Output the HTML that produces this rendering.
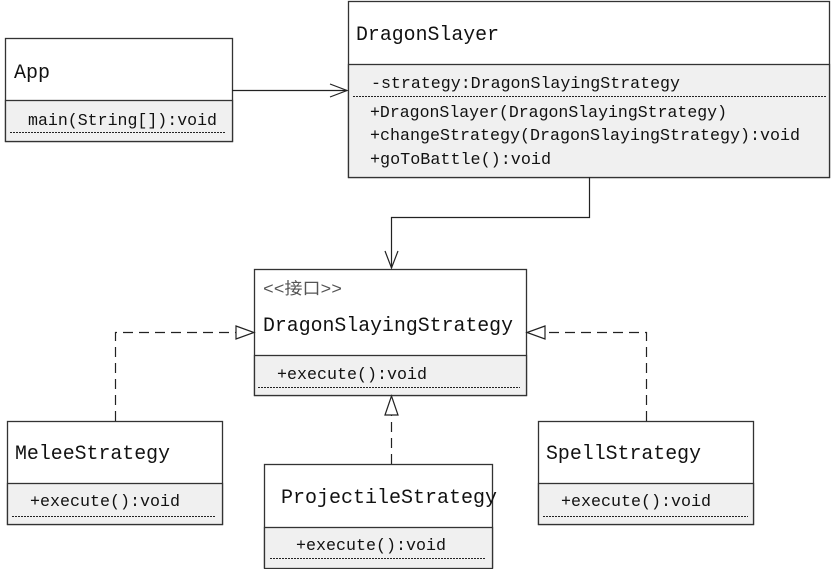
<!DOCTYPE html>
<html><head><meta charset="utf-8"><style>html,body{margin:0;padding:0;background:#fff}svg{display:block}</style></head>
<body>
<svg width="831" height="569" xmlns="http://www.w3.org/2000/svg" font-family="'Liberation Mono','Noto Sans CJK SC',monospace" fill="#111">
<g stroke="#333" stroke-width="1.3">
<!-- App -->
<rect x="5.5" y="38.5" width="227" height="103" fill="#fff"/>
<rect x="5.5" y="100.5" width="227" height="41" fill="#f0f0f0"/>
<!-- DragonSlayer -->
<rect x="348.5" y="1.5" width="481" height="176" fill="#fff"/>
<rect x="348.5" y="64.5" width="481" height="113" fill="#f0f0f0"/>
<!-- Interface -->
<rect x="254.5" y="269.5" width="272" height="126" fill="#fff"/>
<rect x="254.5" y="355.5" width="272" height="40" fill="#f0f0f0"/>
<!-- Melee -->
<rect x="7.5" y="421.5" width="215" height="103" fill="#fff"/>
<rect x="7.5" y="483.5" width="215" height="41" fill="#f0f0f0"/>
<!-- Projectile -->
<rect x="264.5" y="464.5" width="228" height="103" fill="#fff"/>
<rect x="264.5" y="527.5" width="228" height="41" fill="#f0f0f0"/>
<!-- Spell -->
<rect x="538.5" y="421.5" width="215" height="103" fill="#fff"/>
<rect x="538.5" y="483.5" width="215" height="41" fill="#f0f0f0"/>
</g>
<g stroke="#222" stroke-width="1" stroke-dasharray="2,1">
<line x1="10" y1="132.5" x2="226" y2="132.5"/>
<line x1="353" y1="96.5" x2="826" y2="96.5"/>
<line x1="258" y1="387.5" x2="520" y2="387.5"/>
<line x1="12" y1="516.5" x2="216" y2="516.5"/>
<line x1="270" y1="558.5" x2="486" y2="558.5"/>
<line x1="543" y1="516.5" x2="748" y2="516.5"/>
</g>
<!-- connectors -->
<g fill="none" stroke="#222" stroke-width="1.2">
<line x1="232" y1="90.5" x2="347" y2="90.5"/>
<polyline points="330,84 347,90.5 330,97"/>
<polyline points="589.5,177 589.5,217.5 391.5,217.5 391.5,268"/>
<polyline points="385,251 391.5,268 398,251"/>
<g stroke-dasharray="10,6">
<polyline points="115.5,421 115.5,332.5 236,332.5"/>
<polyline points="646.5,421 646.5,332.5 545,332.5"/>
<line x1="391.5" y1="464" x2="391.5" y2="415"/>
</g>
<polygon points="236,326 254,332.5 236,339" fill="#fff"/>
<polygon points="545,326 527,332.5 545,339" fill="#fff"/>
<polygon points="385,415 391.5,396 398,415" fill="#fff"/>
</g>
<!-- text -->
<g font-size="20">
<text x="14" y="78" textLength="36" lengthAdjust="spacingAndGlyphs">App</text>
<text x="356" y="40" textLength="143" lengthAdjust="spacingAndGlyphs">DragonSlayer</text>
<text x="263" y="331" textLength="250" lengthAdjust="spacingAndGlyphs">DragonSlayingStrategy</text>
<text x="15" y="459" textLength="155" lengthAdjust="spacingAndGlyphs">MeleeStrategy</text>
<text x="281" y="503" textLength="216" lengthAdjust="spacingAndGlyphs">ProjectileStrategy</text>
<text x="546" y="459" textLength="155" lengthAdjust="spacingAndGlyphs">SpellStrategy</text>
</g>
<g font-size="16.5">
<text x="28" y="125" textLength="189" lengthAdjust="spacingAndGlyphs">main(String[]):void</text>
<text x="371" y="88" textLength="309" lengthAdjust="spacingAndGlyphs">-strategy:DragonSlayingStrategy</text>
<text x="370" y="117" textLength="357" lengthAdjust="spacingAndGlyphs">+DragonSlayer(DragonSlayingStrategy)</text>
<text x="370" y="140" textLength="430" lengthAdjust="spacingAndGlyphs">+changeStrategy(DragonSlayingStrategy):void</text>
<text x="370" y="164" textLength="181" lengthAdjust="spacingAndGlyphs">+goToBattle():void</text>
<text x="263" y="294" fill="#555" textLength="79" lengthAdjust="spacingAndGlyphs">&lt;&lt;接口&gt;&gt;</text>
<text x="277" y="379" textLength="150" lengthAdjust="spacingAndGlyphs">+execute():void</text>
<text x="30" y="506" textLength="150" lengthAdjust="spacingAndGlyphs">+execute():void</text>
<text x="296" y="550" textLength="150" lengthAdjust="spacingAndGlyphs">+execute():void</text>
<text x="561" y="506" textLength="150" lengthAdjust="spacingAndGlyphs">+execute():void</text>
</g>
</svg>
</body></html>
